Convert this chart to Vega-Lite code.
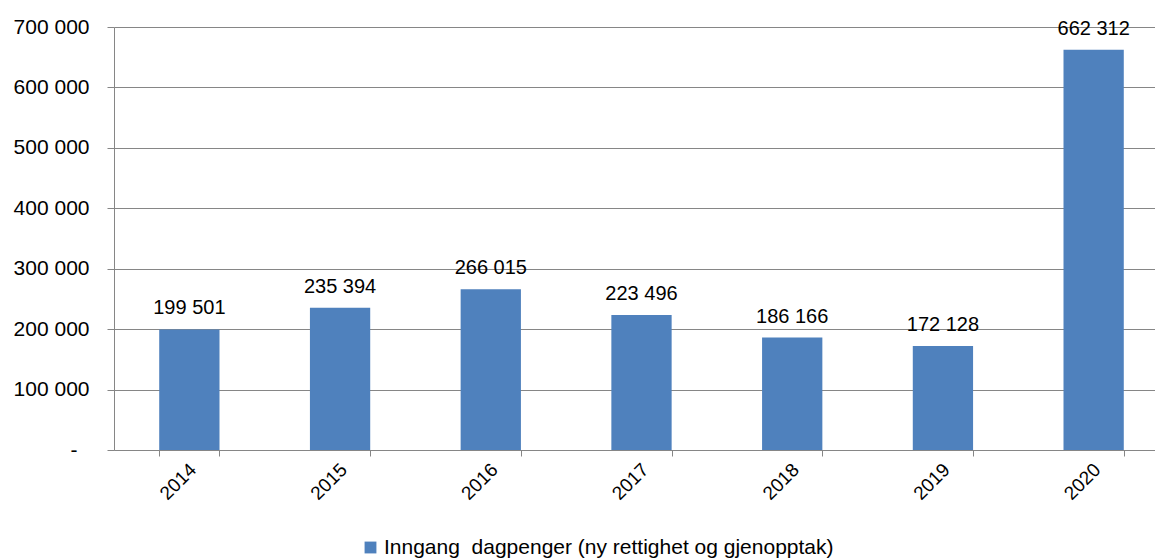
{
  "$schema": "https://vega.github.io/schema/vega-lite/v6.json",
  "autosize": "none",
  "padding": {"left": 114, "top": 27, "right": 0, "bottom": 110},
  "width": 1055,
  "height": 423,
  "background": "white",
  "config": {
    "font": "Liberation Sans",
    "locale": {"number": {"decimal": ",", "thousands": " ", "grouping": [3], "currency": ["", ""]}},
    "view": {"stroke": null},
    "axis": {"labelFont": "Liberation Sans", "labelColor": "black", "domainColor": "#868686", "tickColor": "#868686", "gridColor": "#868686", "gridOpacity": 1}
  },
  "data": {
    "values": [
      {"year": "2014", "value": 199501, "series": "Inngang  dagpenger (ny rettighet og gjenopptak)"},
      {"year": "2015", "value": 235394, "series": "Inngang  dagpenger (ny rettighet og gjenopptak)"},
      {"year": "2016", "value": 266015, "series": "Inngang  dagpenger (ny rettighet og gjenopptak)"},
      {"year": "2017", "value": 223496, "series": "Inngang  dagpenger (ny rettighet og gjenopptak)"},
      {"year": "2018", "value": 186166, "series": "Inngang  dagpenger (ny rettighet og gjenopptak)"},
      {"year": "2019", "value": 172128, "series": "Inngang  dagpenger (ny rettighet og gjenopptak)"},
      {"year": "2020", "value": 662312, "series": "Inngang  dagpenger (ny rettighet og gjenopptak)"}
    ]
  },
  "encoding": {
    "x": {
      "field": "year", "type": "ordinal",
      "scale": {"paddingInner": 0.6, "paddingOuter": 0.3},
      "axis": {"title": null, "labelAngle": -45, "labelFontSize": 19, "tickBand": "extent", "tickSize": 6, "labelPadding": 4, "labelOffset": -3}
    },
    "y": {
      "field": "value", "type": "quantitative",
      "scale": {"domain": [0, 700000], "nice": false},
      "axis": {"title": null, "values": [0, 100000, 200000, 300000, 400000, 500000, 600000, 700000], "format": ",d", "labelFontSize": 21, "tickSize": 7, "grid": true,
        "labelPadding": {"condition": {"test": "datum.value == 0", "value": 30}, "value": 18},
        "labelExpr": "datum.value == 0 ? '-' : datum.label"}
    }
  },
  "layer": [
    {
      "mark": {"type": "bar"},
      "encoding": {
        "color": {"field": "series", "type": "nominal", "scale": {"range": ["#4F81BD"]},
          "legend": {"title": null, "orient": "none", "legendX": 246, "legendY": 510, "symbolType": "square", "symbolSize": 140, "symbolStrokeWidth": 0, "labelFontSize": 21, "labelColor": "black", "labelFont": "Liberation Sans", "labelOffset": 3, "labelLimit": 700,
            "labelExpr": "replace(datum.label, 'Inngang ', 'Inngang\u00a0')"}}
      }
    },
    {
      "mark": {"type": "text", "fontSize": 20, "baseline": "alphabetic", "dy": -15, "color": "black"},
      "encoding": {
        "text": {"field": "value", "type": "quantitative", "format": ",d"}
      }
    }
  ]
}
